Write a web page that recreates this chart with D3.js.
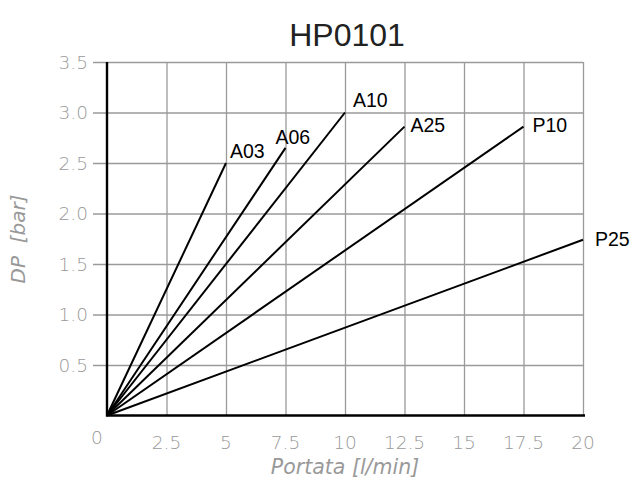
<!DOCTYPE html>
<html>
<head>
<meta charset="utf-8">
<script src="https://cdn.jsdelivr.net/npm/d3@7"></script>
<style>
  body { margin: 0; background: #fff; }
  svg { display: block; }
</style>
</head>
<body>
<div id="chart"></div>
<script>
// chart values
var seriesNames = ["A03", "A06", "A10", "A25", "P10", "P25"];
var seriesEndX = [5, 7.5, 10, 12.5, 17.5, 20];          // Portata at end of line [l/min]
var seriesEndY = [2.5, 2.65, 3.0, 2.86, 2.86, 1.74];    // DP at end of line [bar]
var xTicks = [0, 2.5, 5, 7.5, 10, 12.5, 15, 17.5, 20];
var yTicks = [0.5, 1.0, 1.5, 2.0, 2.5, 3.0, 3.5];
var titleText = "HP0101";

// label placement next to the line ends (pixels)
var labelOffsets = [[4, -5], [-10, -4], [8, -6], [6, 5], [9, 5], [12, 6]];

var margin = {top: 62, right: 52, bottom: 63.5, left: 107},
    width = 635 - margin.left - margin.right,
    height = 479 - margin.top - margin.bottom;

var svg = d3.select("#chart").append("svg")
    .attr("width", 635)
    .attr("height", 479);

var g = svg.append("g")
    .attr("transform", "translate(" + margin.left + "," + margin.top + ")");

var xScale = d3.scaleLinear().domain([0, 20]).range([0, width]);
var yScale = d3.scaleLinear().domain([0, 3.5]).range([height, 0]);

// grid: horizontal lines poke out to the left like ticks
g.append("g")
    .attr("class", "grid y")
    .attr("transform", "translate(-14,0)")
    .call(d3.axisRight(yScale).tickValues(yTicks).tickSize(width + 14).tickFormat(""))
    .call(function(s) {
        s.select(".domain").remove();
        s.selectAll("line").attr("stroke", "#9a9a9a").attr("stroke-width", 1.3);
    });

g.append("g")
    .attr("class", "grid x")
    .call(d3.axisBottom(xScale).tickValues(xTicks.filter(function(d) { return d > 0; })).tickSize(height).tickFormat(""))
    .call(function(s) {
        s.select(".domain").remove();
        s.selectAll("line").attr("stroke", "#9a9a9a").attr("stroke-width", 1.3);
    });

// y tick labels
g.selectAll(".ylab")
    .data(yTicks)
    .enter().append("text")
    .attr("class", "ylab")
    .attr("x", -19)
    .attr("y", function(d) { return yScale(d); })
    .attr("dy", "0.36em")
    .attr("text-anchor", "end")
    .attr("font-family", "DejaVu Sans")
    .attr("font-weight", 200)
    .attr("font-size", 18.5)
    .attr("fill", "#999")
    .text(function(d) { return d.toFixed(1); });

// x tick labels, the 0 sits a bit higher and left of the origin
g.selectAll(".xlab")
    .data(xTicks)
    .enter().append("text")
    .attr("class", "xlab")
    .attr("x", function(d) { return d === 0 ? xScale(d) - 10 : xScale(d); })
    .attr("y", function(d) { return d === 0 ? height + 28 : height + 33.5; })
    .attr("text-anchor", "middle")
    .attr("font-family", "DejaVu Sans")
    .attr("font-weight", 200)
    .attr("font-size", 18.5)
    .attr("fill", "#999")
    .text(function(d) { return d; });

// axes (thick black)
g.append("path")
    .attr("d", "M0,0V" + height + "H" + (width + 2))
    .attr("fill", "none")
    .attr("stroke", "#000")
    .attr("stroke-width", 2.4);

// the lines, all from the origin
var line = d3.line()
    .x(function(d) { return xScale(d[0]); })
    .y(function(d) { return yScale(d[1]); });

var series = seriesNames.map(function(name, i) {
    return {name: name, pts: [[0, 0], [seriesEndX[i], seriesEndY[i]]], off: labelOffsets[i]};
});

g.selectAll(".line")
    .data(series)
    .enter().append("path")
    .attr("class", "line")
    .attr("d", function(d) { return line(d.pts); })
    .attr("fill", "none")
    .attr("stroke", "#000")
    .attr("stroke-width", 2);

g.selectAll(".lab")
    .data(series)
    .enter().append("text")
    .attr("class", "lab")
    .attr("x", function(d) { return xScale(d.pts[1][0]) + d.off[0]; })
    .attr("y", function(d) { return yScale(d.pts[1][1]) + d.off[1]; })
    .attr("font-family", "Liberation Sans, Arial, sans-serif")
    .attr("font-size", 19.5)
    .attr("fill", "#000")
    .text(function(d) { return d.name; });

// titles
svg.append("text")
    .attr("x", margin.left + width / 2 + 2)
    .attr("y", 46)
    .attr("text-anchor", "middle")
    .attr("font-family", "Liberation Sans, Arial, sans-serif")
    .attr("font-size", 32)
    .attr("fill", "#222")
    .text(titleText);

svg.append("text")
    .attr("x", margin.left + width / 2)
    .attr("y", 474)
    .attr("text-anchor", "middle")
    .attr("font-family", "DejaVu Sans")
    .attr("font-style", "italic")
    .attr("font-weight", 200)
    .attr("font-size", 20.5)
    .attr("fill", "#999")
    .text("Portata [l/min]");

svg.append("text")
    .attr("transform", "translate(25,239) rotate(-90)")
    .attr("text-anchor", "middle")
    .attr("font-family", "DejaVu Sans")
    .attr("font-style", "italic")
    .attr("font-weight", 200)
    .attr("font-size", 20)
    .attr("fill", "#999")
    .style("white-space", "pre")
    .text("DP  [bar]");
</script>
</body>
</html>
